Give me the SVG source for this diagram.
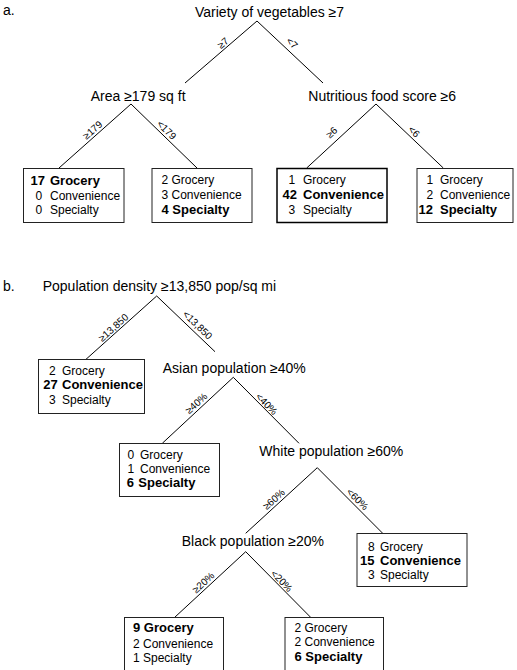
<svg xmlns="http://www.w3.org/2000/svg" width="517" height="670" viewBox="0 0 517 670">
<style>
text{font-family:"Liberation Sans",Arial,sans-serif;fill:#000}
.t{font-size:14px}
.b{font-size:12px}
.bb{font-size:13px;font-weight:bold}
.lab{font-size:10px;text-anchor:middle}
.box{fill:#fff;stroke:#222;stroke-width:1}
.box2{fill:#fff;stroke:#000;stroke-width:1.5}
.ln{stroke:#000;stroke-width:1;fill:none}
</style>
<rect width="517" height="670" fill="#fff"/>
<text class="t" x="3" y="15">a.</text>
<text class="t" x="3" y="291">b.</text>
<g id="connectors">
<path class="ln" d="M257,21 L185,83 M257,21 L323,83 M131,104 L59,168 M131,104 L197,168 M376,104 L306.7,168 M376,104 L443.3,168"/>
<path class="ln" d="M156.7,296 L86,359.3 M156.7,296 L215,351.7 M233.3,377.3 L162.3,443.3 M233.3,377.3 L299,443.3 M317.3,467.7 L245.7,533.3 M317.3,467.7 L382.7,533.3 M245.7,551.7 L174.3,617.7 M245.7,551.7 L311,617.7"/>
<g transform="translate(223,43) rotate(-40.7)"><text class="lab" y="3.5">≥7</text></g>
<g transform="translate(292,43) rotate(43.2)"><text class="lab" y="3.5">&lt;7</text></g>
<g transform="translate(92.5,130) rotate(-41.6)"><text class="lab" y="3.5">≥179</text></g>
<g transform="translate(166.7,130) rotate(44)"><text class="lab" y="3.5">&lt;179</text></g>
<g transform="translate(331.7,132.5) rotate(-42.9)"><text class="lab" y="3.5">≥6</text></g>
<g transform="translate(414,131.7) rotate(43.7)"><text class="lab" y="3.5">&lt;6</text></g>
<g transform="translate(113.3,327.5) rotate(-41.8)"><text class="lab" y="3.5">≥13,850</text></g>
<g transform="translate(197.5,325) rotate(43.7)"><text class="lab" y="3.5">&lt;13,850</text></g>
<g transform="translate(196.3,403.3) rotate(-42.6)"><text class="lab" y="3.5">≥40%</text></g>
<g transform="translate(266.7,404) rotate(45)"><text class="lab" y="3.5">&lt;40%</text></g>
<g transform="translate(273.8,499.2) rotate(-42)"><text class="lab" y="3.5">≥60%</text></g>
<g transform="translate(357.5,499.2) rotate(44.8)"><text class="lab" y="3.5">&lt;60%</text></g>
<g transform="translate(203.3,582.5) rotate(-42.3)"><text class="lab" y="3.5">≥20%</text></g>
<g transform="translate(281.7,580.8) rotate(45)"><text class="lab" y="3.5">&lt;20%</text></g>
</g>
<g id="n-variety"><text class="t" x="195" y="17">Variety of vegetables ≥7</text></g>
<g id="n-area"><text class="t" x="90.7" y="101">Area ≥179 sq ft</text></g>
<g id="n-nutri"><text class="t" x="308.3" y="100.5">Nutritious food score ≥6</text></g>
<g id="n-a1">
<rect class="box" x="23.5" y="168.5" width="100.5" height="54"/>
<text class="bb" x="30.5" y="185">17</text><text class="bb" x="50" y="185">Grocery</text>
<text class="b" x="35.5" y="199.5">0</text><text class="b" x="50" y="199.5">Convenience</text>
<text class="b" x="35.5" y="214">0</text><text class="b" x="50" y="214">Specialty</text>
</g>
<g id="n-a2">
<rect class="box" x="152" y="168.5" width="100" height="54"/>
<text class="b" x="161.5" y="184">2 Grocery</text>
<text class="b" x="161.5" y="198.5">3 Convenience</text>
<text class="bb" x="161.5" y="213.5">4 Specialty</text>
</g>
<g id="n-a3">
<rect class="box2" x="277" y="168.5" width="110" height="54"/>
<text class="b" x="288.5" y="184">1</text><text class="b" x="303" y="184">Grocery</text>
<text class="bb" x="282.5" y="199">42</text><text class="bb" x="303" y="199">Convenience</text>
<text class="b" x="288.5" y="213.5">3</text><text class="b" x="303" y="213.5">Specialty</text>
</g>
<g id="n-a4">
<rect class="box" x="417" y="168.5" width="96" height="54"/>
<text class="b" x="426.5" y="184">1</text><text class="b" x="440" y="184">Grocery</text>
<text class="b" x="426.5" y="198.5">2</text><text class="b" x="440" y="198.5">Convenience</text>
<text class="bb" x="418.5" y="213.5">12</text><text class="bb" x="440" y="213.5">Specialty</text>
</g>
<g id="n-pop"><text class="t" x="42.7" y="291">Population density ≥13,850 pop/sq mi</text></g>
<g id="n-b1">
<rect class="box" x="38.5" y="359.5" width="106" height="54"/>
<text class="b" x="49" y="375">2</text><text class="b" x="62" y="375">Grocery</text>
<text class="bb" x="43.3" y="389">27</text><text class="bb" x="62" y="389">Convenience</text>
<text class="b" x="49" y="403.5">3</text><text class="b" x="62" y="403.5">Specialty</text>
</g>
<g id="n-asian"><text class="t" x="162.7" y="373">Asian population ≥40%</text></g>
<g id="n-b2">
<rect class="box" x="119.5" y="443.5" width="100" height="53"/>
<text class="b" x="127.5" y="458.5">0</text><text class="b" x="140" y="458.5">Grocery</text>
<text class="b" x="127.5" y="472.5">1</text><text class="b" x="140" y="472.5">Convenience</text>
<text class="bb" x="126.7" y="487">6</text><text class="bb" x="138.3" y="487">Specialty</text>
</g>
<g id="n-white"><text class="t" x="259.3" y="456">White population ≥60%</text></g>
<g id="n-b3">
<rect class="box" x="357" y="533.5" width="110" height="53"/>
<text class="b" x="368" y="551">8</text><text class="b" x="380" y="551">Grocery</text>
<text class="bb" x="360" y="564.5">15</text><text class="bb" x="380" y="564.5">Convenience</text>
<text class="b" x="368" y="578.5">3</text><text class="b" x="380" y="578.5">Specialty</text>
</g>
<g id="n-black"><text class="t" x="181.7" y="546">Black population ≥20%</text></g>
<g id="n-b4">
<rect class="box" x="124.5" y="617.5" width="99" height="55"/>
<text class="bb" x="133" y="632">9 Grocery</text>
<text class="b" x="133" y="647.5">2 Convenience</text>
<text class="b" x="133" y="662">1 Specialty</text>
</g>
<g id="n-b5">
<rect class="box" x="285" y="617.5" width="98.5" height="55"/>
<text class="b" x="294.5" y="631.5">2 Grocery</text>
<text class="b" x="294.5" y="646">2 Convenience</text>
<text class="bb" x="294.5" y="661">6 Specialty</text>
</g>
</svg>
